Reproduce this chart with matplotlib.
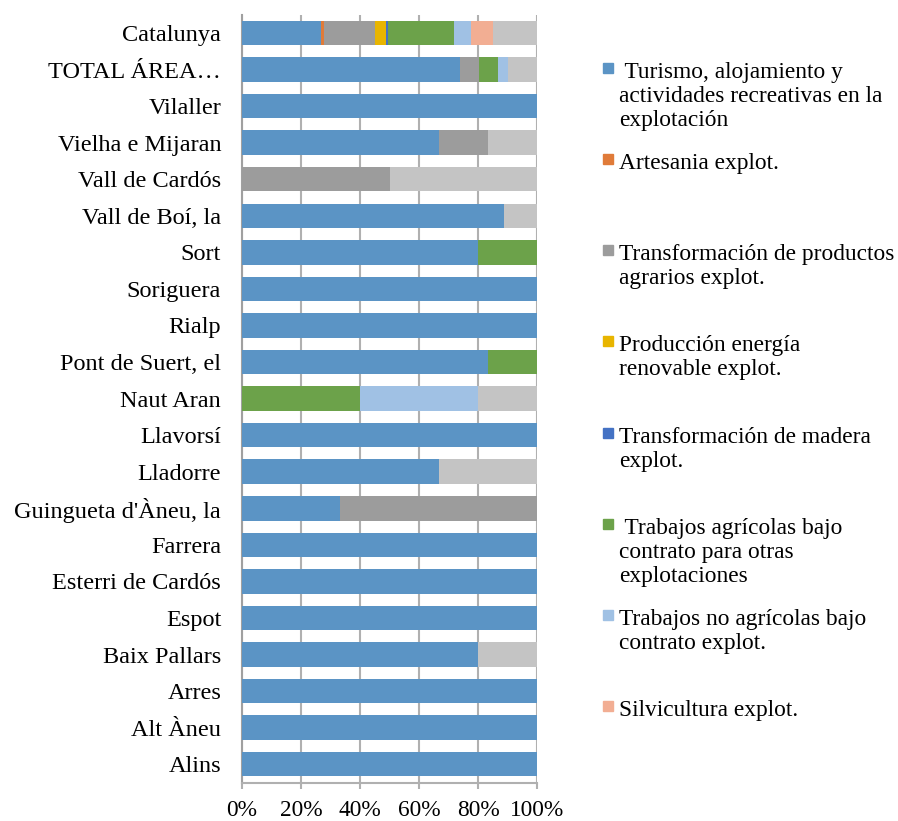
import matplotlib.pyplot as plt
import matplotlib.patches as mpatches
import numpy as np

plt.rcParams["font.family"] = ["Liberation Serif", "DejaVu Serif"]

# categorias (de arriba a abajo)
categories = ["Catalunya", "TOTAL ÁREA…", "Vilaller", "Vielha e Mijaran",
              "Vall de Cardós", "Vall de Boí, la", "Sort", "Soriguera", "Rialp",
              "Pont de Suert, el", "Naut Aran", "Llavorsí", "Lladorre",
              "Guingueta d'Àneu, la", "Farrera", "Esterri de Cardós", "Espot",
              "Baix Pallars", "Arres", "Alt Àneu", "Alins"]

# porcentajes por serie
turismo      = [26.8, 73.9, 100, 66.7, 0, 88.9, 80, 100, 100, 83.3, 0, 100, 66.7, 33.3, 100, 100, 100, 80, 100, 100, 100]
artesania    = [1.0, 0, 0, 0, 0, 0, 0, 0, 0, 0, 0, 0, 0, 0, 0, 0, 0, 0, 0, 0, 0]
transf_prod  = [17.3, 6.4, 0, 16.7, 50, 0, 0, 0, 0, 0, 0, 0, 0, 66.7, 0, 0, 0, 0, 0, 0, 0]
energia      = [3.7, 0, 0, 0, 0, 0, 0, 0, 0, 0, 0, 0, 0, 0, 0, 0, 0, 0, 0, 0, 0]
madera       = [0.8, 0, 0, 0, 0, 0, 0, 0, 0, 0, 0, 0, 0, 0, 0, 0, 0, 0, 0, 0, 0]
agricolas    = [22.3, 6.6, 0, 0, 0, 0, 20, 0, 0, 16.7, 40, 0, 0, 0, 0, 0, 0, 0, 0, 0, 0]
no_agricolas = [5.8, 3.4, 0, 0, 0, 0, 0, 0, 0, 0, 40, 0, 0, 0, 0, 0, 0, 0, 0, 0, 0]
silvicultura = [7.4, 0, 0, 0, 0, 0, 0, 0, 0, 0, 0, 0, 0, 0, 0, 0, 0, 0, 0, 0, 0]
otros        = [14.9, 9.7, 0, 16.6, 50, 11.1, 0, 0, 0, 0, 20, 0, 33.3, 0, 0, 0, 0, 20, 0, 0, 0]

series = [turismo, artesania, transf_prod, energia, madera, agricolas,
          no_agricolas, silvicultura, otros]
labels = [" Turismo, alojamiento y\nactividades recreativas en la\nexplotación",
          "Artesania explot.",
          "Transformación de productos\nagrarios explot.",
          "Producción energía\nrenovable explot.",
          "Transformación de madera\nexplot.",
          " Trabajos agrícolas bajo\ncontrato para otras\nexplotaciones",
          "Trabajos no agrícolas bajo\ncontrato explot.",
          "Silvicultura explot."]
colors = ["#5B94C5", "#E07B39", "#9C9C9C", "#E8B500", "#4472C4", "#6CA24A",
          "#A0C1E4", "#F2AE93", "#C4C4C4"]

W, H = 898, 821
fig = plt.figure(figsize=(W / 100, H / 100), dpi=100)
ax = fig.add_axes([242 / W, 1 - 782.5 / H, 295 / W, 767.8 / H])

y = np.arange(len(categories))
left = np.zeros(len(categories))
for vals, c in zip(series, colors):
    vals = np.array(vals, dtype=float)
    ax.barh(y, vals, left=left, height=0.67, color=c, zorder=3)
    left += vals

ax.set_ylim(len(categories) - 0.5, -0.5)
ax.set_xlim(0, 100)
ax.set_yticks(y)
ax.set_yticklabels(categories, fontsize=17.5)
ax.set_xticks(np.arange(0, 101, 20))
ax.set_xticklabels([f"{v}%" for v in range(0, 101, 20)], fontsize=16.8)
ax.tick_params(axis="y", length=0, pad=15)
ax.tick_params(axis="x", length=4.5, width=1.5, color="#B0B0B0", pad=8)
ax.grid(axis="x", color="#B0B0B0", linewidth=1.5, zorder=0)
for s in ["top", "right"]:
    ax.spines[s].set_visible(False)
ax.spines["bottom"].set_color("#B0B0B0")
ax.spines["bottom"].set_linewidth(1.5)
ax.spines["left"].set_color("#A0A0A0")
ax.spines["left"].set_linewidth(1.5)

# leyenda manual (posiciones al estilo Excel)
ys = np.linspace(72, 710, len(labels))
for lab, c, yy in zip(labels, colors, ys):
    fy = 1 - yy / H
    fig.patches.append(mpatches.Rectangle((603 / W, fy - 1 / H), 10 / W, 10 / H,
                                          transform=fig.transFigure, color=c))
    fig.text(619 / W, fy + 10 / H, lab, fontsize=16.8, va="top", ha="left",
             linespacing=1.19)

fig.savefig("out.png", dpi=100)
